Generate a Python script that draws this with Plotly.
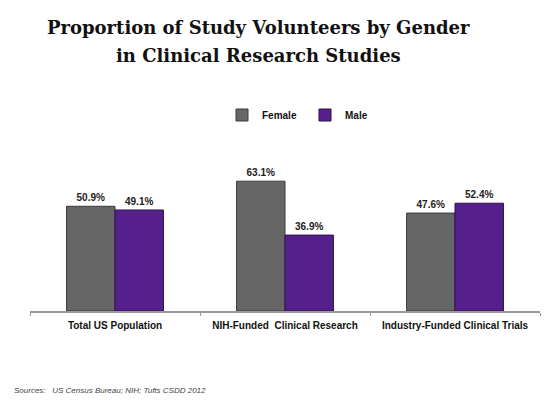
import plotly.graph_objects as go

categories = ["Total US Population", "NIH-Funded  Clinical Research", "Industry-Funded Clinical Trials"]
female = [50.9, 63.1, 47.6]
male = [49.1, 36.9, 52.4]
female_labels = ["50.9%", "63.1%", "47.6%"]
male_labels = ["49.1%", "36.9%", "52.4%"]

fig = go.Figure()
fig.add_trace(go.Bar(
    name="<b>Female</b>", x=categories, y=female, text=female_labels,
    texttemplate="<b>%{text}</b>",
    textposition="outside", cliponaxis=False,
    textfont=dict(family="Liberation Sans", size=10, color="#222222"),
    marker=dict(color="#666666", line=dict(color="#3a3a3a", width=1)),
))
fig.add_trace(go.Bar(
    name="<b>Male</b>", x=categories, y=male, text=male_labels,
    texttemplate="<b>%{text}</b>",
    textposition="outside", cliponaxis=False,
    textfont=dict(family="Liberation Sans", size=10, color="#222222"),
    marker=dict(color="#56208c", line=dict(color="#2e0f4e", width=1)),
))

fig.update_layout(
    width=550, height=409,
    margin=dict(l=30, r=10, t=167, b=98, autoexpand=False),
    paper_bgcolor="white", plot_bgcolor="white",
    barmode="group", bargap=0.43, bargroupgap=0,
    showlegend=True,
    legend=dict(orientation="h", x=(222 - 30) / 510.0, xanchor="left", y=(409 - 115) / 409.0,
                yref="container", yanchor="middle",
                font=dict(family="Liberation Sans", size=10, color="#111111"),
                itemwidth=30, entrywidth=38, traceorder="normal"),
    font=dict(family="Liberation Sans"),
)
fig.add_annotation(text="<b>Proportion of Study Volunteers by Gender</b>",
                   xref="paper", yref="paper", x=(258 - 30) / 510.0, y=(409 - 27 - 98) / 144.0,
                   xanchor="center", yanchor="middle",
                   showarrow=False, font=dict(family="DejaVu Serif", size=18, color="#111111"))
fig.add_annotation(text="<b>in Clinical Research Studies</b>",
                   xref="paper", yref="paper", x=(258 - 30) / 510.0, y=(409 - 55 - 98) / 144.0,
                   xanchor="center", yanchor="middle",
                   showarrow=False, font=dict(family="DejaVu Serif", size=18, color="#111111"))
fig.update_xaxes(
    automargin=False,
    showline=True, linecolor="#9a9a9a", linewidth=2,
    ticks="outside", tickson="boundaries", ticklen=3, tickcolor="#9a9a9a",
    tickfont=dict(family="Liberation Sans", size=10, color="#111111"),
    tickprefix="<b>", ticksuffix="</b>", ticklabelstandoff=4,
    showgrid=False,
)
fig.update_yaxes(range=[0, 70], visible=False, showgrid=False, automargin=False)

fig.add_annotation(text="<i>Sources:   US Census Bureau; NIH; Tufts CSDD 2012</i>",
                   xref="paper", yref="paper", x=-18 / 510.0, y=-(390 - 311) / 144.0,
                   xanchor="left", yanchor="middle",
                   showarrow=False, font=dict(family="Liberation Sans", size=8, color="#444444"))

fig.write_html("out.html", config={"displayModeBar": False},
               post_script="document.body.style.margin='0';document.body.style.overflow='hidden';")
